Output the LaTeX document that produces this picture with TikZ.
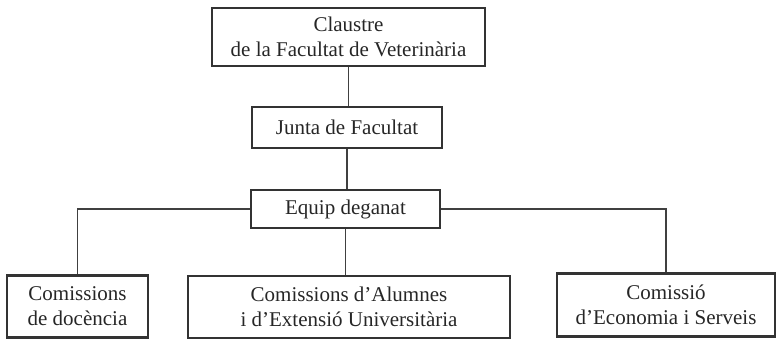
\documentclass[tikz,border=0pt]{standalone}
\usepackage{fontspec}
\setmainfont{Liberation Serif}
\usepackage{tikz}

\tikzset{
	orgbox/.style={draw=black!80, line width=2.4pt, inner sep=0pt, align=center,
		font=\fontsize{21}{25}\selectfont, text=black!85},
	orglink/.style={draw=black!75, line width=1.5pt}
}

\begin{document}
\begin{tikzpicture}[x=1pt, y=-1pt]
			\useasboundingbox (0,0) rectangle (777,342);
			\node[orgbox, minimum width=273pt, minimum height=58pt] (claustre) at (348.5,37) {Claustre\\de la Facultat de Veterinària};
			\node[orgbox, minimum width=190pt, minimum height=41pt] (junta) at (347,127.5) {Junta de Facultat};
			\node[orgbox, minimum width=189pt, minimum height=38pt] (equip) at (345.5,209) {Equip deganat};
			\node[orgbox, minimum width=141pt, minimum height=62pt] (docencia) at (77.5,306.5) {Comissions\\de docència};
			\node[orgbox, minimum width=322pt, minimum height=62pt] (alumnes) at (349,307) {Comissions d’Alumnes\\i d’Extensió Universitària};
			\node[orgbox, minimum width=218pt, minimum height=63pt] (economia) at (666,305) {Comissió\\d’Economia i Serveis};
			% connexions
			\draw[orglink] (claustre.south) -- (claustre.south |- junta.north);
			\draw[orglink] (junta.south) -- (junta.south |- equip.north);
			\draw[orglink] (equip.west) -| (docencia.north);
			\draw[orglink] (equip.south) -- (equip.south |- alumnes.north);
			\draw[orglink] (equip.east) -| (economia.north);
		\end{tikzpicture}
\end{document}
